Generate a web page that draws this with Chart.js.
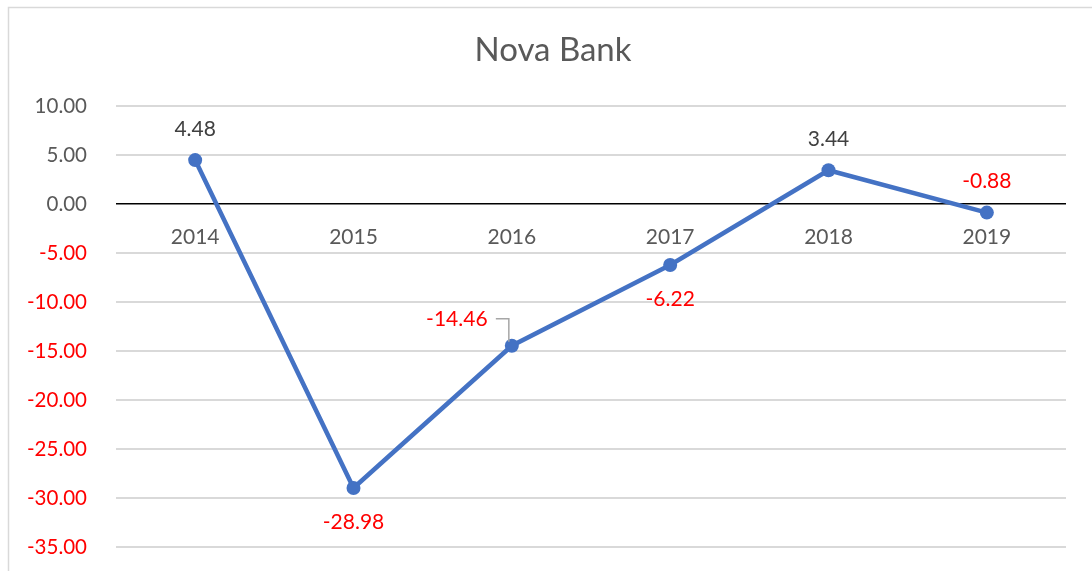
<!DOCTYPE html>
<html>
<head>
<meta charset="utf-8">
<script src="https://cdn.jsdelivr.net/npm/chart.js@4.4.0/dist/chart.umd.min.js"></script>
<style>
  html, body { margin: 0; padding: 0; background: #fff; }
  #wrap { position: relative; width: 1092px; height: 571px; }
</style>
</head>
<body>
<div id="wrap"><canvas id="myChart" width="1092" height="571"></canvas></div>
<script>
"use strict";
const years = ["2014", "2015", "2016", "2017", "2018", "2019"];
const values = [4.48, -28.98, -14.46, -6.22, 3.44, -0.88];
const yMin = -35;
const yMax = 10;
const yStep = 5;

// where each value label sits relative to its point
const labelSpots = ["above", "below", "left", "below", "above", "above"];

const fontName = "Lato, 'Open Sans', sans-serif";
const grey = "#595959";
const red = "#FF0000";

// light frame like the spreadsheet chart box
const framePlugin = {
  id: "frame",
  beforeDraw(chart) {
    const c = chart.ctx;
    c.save();
    c.strokeStyle = "#d9d9d9";
    c.lineWidth = 1.5;
    c.beginPath();
    c.moveTo(8.5, 571);
    c.lineTo(8.5, 7.5);
    c.lineTo(1092, 7.5);
    c.stroke();
    c.restore();
  }
};

// title, category labels on the zero line, value labels
const textPlugin = {
  id: "texts",
  afterDatasetsDraw(chart) {
    const c = chart.ctx;
    const xs = chart.scales.x;
    const ys = chart.scales.y;
    const area = chart.chartArea;
    c.save();
    c.textAlign = "center";
    c.textBaseline = "middle";

    c.fillStyle = grey;
    c.font = "33px " + fontName;
    c.fillText("Nova Bank", (area.left + area.right) / 2 - 38, 50);

    c.font = "21px " + fontName;
    const zeroY = ys.getPixelForValue(0);
    years.forEach((y, i) => {
      c.fillStyle = grey;
      c.fillText(y, xs.getPixelForValue(i), zeroY + 33);
    });

    const meta = chart.getDatasetMeta(0);
    values.forEach((v, i) => {
      const p = meta.data[i];
      c.fillStyle = v < 0 ? red : "#404040";
      let tx = p.x, ty = p.y;
      const spot = labelSpots[i];
      if (spot === "above") ty = p.y - 31;
      else if (spot === "below") ty = p.y + 34;
      else if (spot === "left") {
        tx = p.x - 55;
        ty = p.y - 26;
        c.strokeStyle = "#a6a6a6";
        c.lineWidth = 1.5;
        c.beginPath();
        c.moveTo(p.x - 16, ty - 1);
        c.lineTo(p.x - 3, ty - 1);
        c.lineTo(p.x - 3, p.y - 4);
        c.stroke();
      }
      c.fillText(v.toFixed(2), tx, ty);
    });
    c.restore();
  }
};

new Chart(document.getElementById("myChart"), {
  type: "line",
  data: {
    labels: years,
    datasets: [{
      data: values,
      borderColor: "#4472C4",
      backgroundColor: "#4472C4",
      borderWidth: 4.5,
      pointRadius: 7,
      pointHoverRadius: 7,
      pointBackgroundColor: "#4472C4",
      pointBorderWidth: 0,
      tension: 0,
      clip: false
    }]
  },
  options: {
    responsive: false,
    animation: false,
    devicePixelRatio: 1,
    layout: { padding: { left: 0, right: 26, top: 106, bottom: 24 } },
    plugins: {
      legend: { display: false },
      tooltip: { enabled: false },
      title: { display: false }
    },
    scales: {
      x: {
        display: false,
        offset: true
      },
      y: {
        min: yMin,
        max: yMax,
        afterFit(scale) { scale.width = 116; },
        border: { display: false },
        grid: {
          drawTicks: true,
          tickLength: 29,
          tickColor: "rgba(0,0,0,0)",
          color: ctx => ctx.tick && ctx.tick.value === 0 ? "#000000" : "#d9d9d9",
          lineWidth: ctx => ctx.tick && ctx.tick.value === 0 ? 1.5 : 2
        },
        ticks: {
          stepSize: yStep,
          padding: 0,
          color: ctx => ctx.tick && ctx.tick.value < 0 ? red : grey,
          font: { family: fontName, size: 20.5 },
          callback: v => Number(v).toFixed(2)
        }
      }
    }
  },
  plugins: [framePlugin, textPlugin]
});
</script>
</body>
</html>
